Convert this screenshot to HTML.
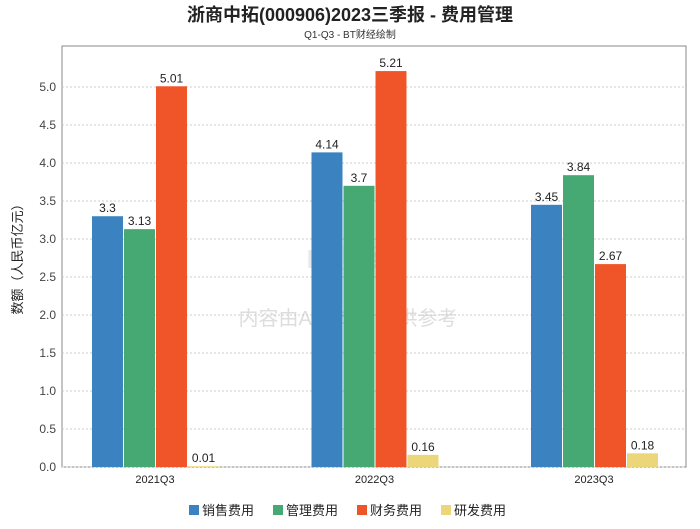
<!DOCTYPE html>
<html><head><meta charset="utf-8"><style>
body{margin:0;background:#fff;}
svg text{font-family:"Liberation Sans","Noto Sans CJK SC",sans-serif;}
</style></head><body>
<svg id="chart" width="700" height="524" xmlns="http://www.w3.org/2000/svg">
<text x="350" y="21" text-anchor="middle" font-size="18" font-weight="bold" fill="#222">浙商中拓(000906)2023三季报 - 费用管理</text>
<text x="350" y="38" text-anchor="middle" font-size="10" fill="#333">Q1-Q3 - BT财经绘制</text>
<text x="350" y="268" text-anchor="middle" font-size="26" fill="#e6e9ee" font-weight="bold">BT财经</text>
<text x="348" y="325" text-anchor="middle" font-size="20" fill="#ddd">内容由AI生成，仅供参考</text>
<g id="plot"></g>
<text transform="translate(22,256) rotate(-90)" text-anchor="middle" font-size="13" fill="#222">数额（人民币亿元）</text>
<g id="legend"></g>
</svg>
<script>
const categories=["2021Q3","2022Q3","2023Q3"];
const seriesNames=["销售费用","管理费用","财务费用","研发费用"];
const sales=[3.3,4.14,3.45];
const admin=[3.13,3.7,3.84];
const finance=[5.01,5.21,2.67];
const rd=[0.01,0.16,0.18];
const yTicks=[0,0.5,1,1.5,2,2.5,3,3.5,4,4.5,5];
const colors=["#3a82c0","#46a872","#f0552a","#ecd67a"];
const NS="http://www.w3.org/2000/svg";
const L=62,R=686,T=46,B=467,yMax=5.54;
const y=v=>B-(v/yMax)*(B-T);
const gw=219.5, g0=155;
const plot=document.getElementById('plot');
function mk(tag,attrs,parent){const e=document.createElementNS(NS,tag);for(const k in attrs)e.setAttribute(k,attrs[k]);(parent||plot).appendChild(e);return e;}
const frame=mk('rect',{x:L,y:T,width:R-L,height:B-T,fill:'none',stroke:'#888'});


yTicks.forEach(t=>{
  const g=mk('line',{x1:L,x2:R,y1:y(t),y2:y(t),stroke:'#ccc','stroke-dasharray':'2,2'});
  
  
  const tx=mk('text',{x:L-6,y:y(t)+4,'text-anchor':'end','font-size':'12',fill:'#444'});
  tx.textContent=t.toFixed(1);
  
  
});
const all=[sales,admin,finance,rd];
categories.forEach((c,i)=>{
  const cx=g0+gw*i;
  all.forEach((s,j)=>{
    const bx=cx-63+j*32;
    const r=mk('rect',{x:bx,y:y(s[i]),width:31,height:B-y(s[i]),fill:colors[j]});
    
    
    const lb=mk('text',{x:bx+15.5,y:y(s[i])-4,'text-anchor':'middle','font-size':'12',fill:'#222'});
    lb.textContent=String(s[i]);
    
    
  });
  const xl=mk('text',{x:cx,y:B+16,'text-anchor':'middle','font-size':'11',fill:'#222'});
  xl.textContent=c;
  
  
});
const leg=document.getElementById('legend');
const lx=[189,273,357,441];
seriesNames.forEach((n,j)=>{
  const r=mk('rect',{x:lx[j],y:505,width:10,height:10,fill:colors[j]},leg);
  
  
  const t=mk('text',{x:lx[j]+13,y:515,'font-size':'13',fill:'#222'},leg);
  t.textContent=n;
  
  
});
</script>
</body></html>
